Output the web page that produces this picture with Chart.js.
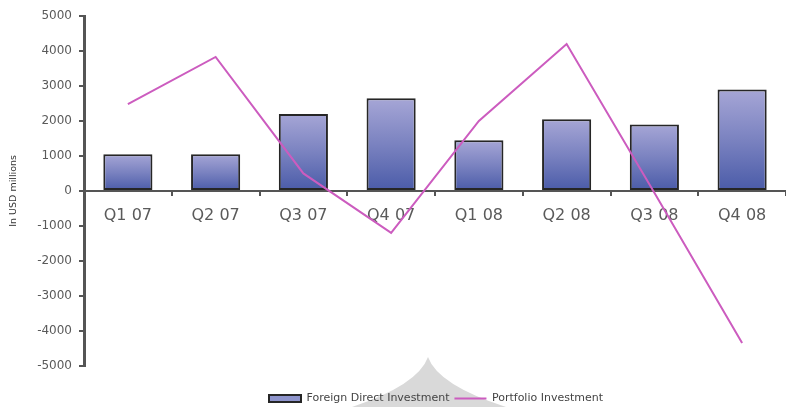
<!DOCTYPE html>
<html>
<head>
<meta charset="utf-8">
<script src="https://cdn.jsdelivr.net/npm/chart.js@4.4.1/dist/chart.umd.min.js"></script>
<style>
  html, body { margin: 0; padding: 0; background: #fff; }
  #wrap { width: 786px; height: 407px; }
</style>
</head>
<body>
<div id="wrap"><canvas id="invest-canvas"></canvas></div>
<script>
  // Quarters and flows, USD millions
  let quarters = ['Q1 07', 'Q2 07', 'Q3 07', 'Q4 07', 'Q1 08', 'Q2 08', 'Q3 08', 'Q4 08'];
  let fdi_values = [1050, 1050, 2200, 2650, 1450, 2050, 1900, 2900];
  let portfolio_values = [2480, 3830, 500, -1200, 2000, 4200, -50, -4350];
  let y_ticks = [-5000, -4000, -3000, -2000, -1000, 0, 1000, 2000, 3000, 4000, 5000];

  let axis_grey = '#555555';
  let label_grey = '#5a5a5a';
  let line_pink = '#cc5cbf';

  // Each bar gets its own light-to-dark gradient, top to base
  let bar_fill = function(ctx) {
    let chart = ctx.chart;
    let y = chart.scales.y;
    if (!chart.chartArea || !y || ctx.type !== 'data') return '#8e94cc';
    let top = y.getPixelForValue(ctx.raw);
    let base = y.getPixelForValue(0);
    if (!isFinite(top) || !isFinite(base) || top === base) return '#8e94cc';
    let g = chart.ctx.createLinearGradient(0, top, 0, base);
    g.addColorStop(0, '#a6a6d6');
    g.addColorStop(0.5, '#7a82c0');
    g.addColorStop(1, '#4a5ba8');
    return g;
  };

  // Grey tent shape sitting behind the legend
  let backdrop = {
    id: 'backdrop',
    beforeDraw: function(chart) {
      let c = chart.ctx;
      c.save();
      c.fillStyle = '#d9d9d9';
      c.beginPath();
      c.moveTo(428, 357);
      c.quadraticCurveTo(418, 385, 352, 407);
      c.lineTo(506, 407);
      c.quadraticCurveTo(438, 385, 428, 357);
      c.closePath();
      c.fill();
      c.restore();
    }
  };

  // Legend sits a little right of centre and low on the page
  let legend_shift = {
    id: 'legendShift',
    afterLayout: function(chart) {
      if (!chart.legend) return;
      chart.legend.left += 43;
      chart.legend.right += 43;
      chart.legend.top += 7;
      chart.legend.bottom += 7;
    }
  };

  let invest_ctx = document.getElementById('invest-canvas').getContext('2d');
  let invest_chart = new Chart(invest_ctx, {
    data: {
      labels: quarters,
      datasets: [
        {
          type: 'line',
          label: 'Portfolio Investment',
          data: portfolio_values,
          borderColor: line_pink,
          backgroundColor: line_pink,
          borderWidth: 2,
          pointRadius: 0,
          pointStyle: 'line',
          tension: 0
        },
        {
          type: 'bar',
          label: 'Foreign Direct Investment',
          data: fdi_values,
          backgroundColor: bar_fill,
          borderColor: '#262626',
          borderWidth: 2,
          borderSkipped: false,
          pointStyle: 'rect',
          barPercentage: 0.56,
          categoryPercentage: 1.0
        }
      ]
    },
    options: {
      responsive: true,
      maintainAspectRatio: false,
      animation: false,
      layout: { padding: { top: 16, right: 0, bottom: 0, left: 0 } },
      plugins: {
        tooltip: { enabled: false },
        legend: {
          position: 'bottom',
          title: { display: true, text: '', font: { size: 1 }, padding: { top: 14, bottom: 0 } },
          labels: {
            font: { family: 'DejaVu Sans', size: 11 },
            color: '#444444',
            usePointStyle: true,
            pointStyleWidth: 32,
            boxHeight: 7,
            padding: 5,
            sort: function(a, b) { return b.datasetIndex - a.datasetIndex; },
            generateLabels: function(chart) {
              let items = Chart.defaults.plugins.legend.labels.generateLabels(chart);
              items.forEach(function(it) {
                if (it.datasetIndex === 1) {
                  it.fillStyle = '#8e94cc';
                  it.strokeStyle = '#262626';
                  it.lineWidth = 2;
                } else {
                  it.strokeStyle = line_pink;
                  it.lineWidth = 2;
                }
              });
              return items;
            }
          }
        }
      },
      scales: {
        x: {
          position: { y: 0 },
          border: { display: true, color: axis_grey, width: 2 },
          grid: {
            display: true,
            drawOnChartArea: false,
            drawTicks: true,
            tickLength: 4,
            color: axis_grey,
            lineWidth: 2,
            offset: true
          },
          ticks: {
            font: { family: 'DejaVu Sans', size: 16 },
            color: label_grey,
            padding: 11,
            maxRotation: 0
          }
        },
        y: {
          min: -5000,
          max: 5000,
          afterBuildTicks: function(scale) {
            scale.ticks = y_ticks.map(function(v) { return { value: v }; });
          },
          afterFit: function(scale) { scale.width = 84; },
          border: { display: true, color: axis_grey, width: 3 },
          grid: {
            display: true,
            drawOnChartArea: false,
            drawTicks: true,
            tickLength: 5,
            color: axis_grey,
            lineWidth: 2
          },
          ticks: {
            font: { family: 'DejaVu Sans', size: 12 },
            color: label_grey,
            padding: 7,
            callback: function(v) { return String(v); }
          },
          title: {
            display: true,
            text: 'In USD millions',
            font: { family: 'DejaVu Sans', size: 9.5 },
            color: '#333333',
            padding: { top: 8, bottom: 0 }
          }
        }
      }
    },
    plugins: [backdrop, legend_shift]
  });
</script>
</body>
</html>
